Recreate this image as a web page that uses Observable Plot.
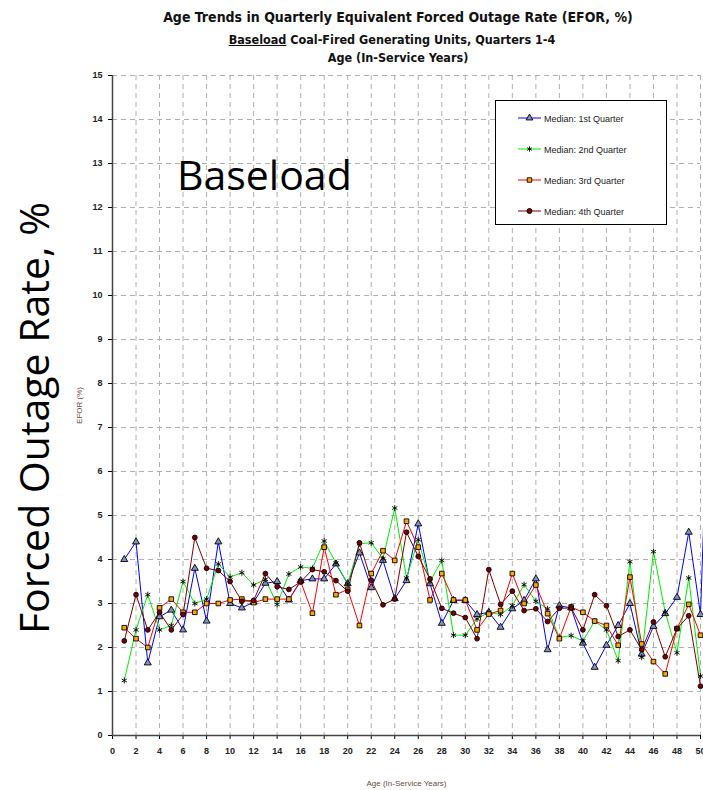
<!DOCTYPE html>
<html><head><meta charset="utf-8">
<script src="https://cdn.jsdelivr.net/npm/d3@7"></script>
<script src="https://cdn.jsdelivr.net/npm/@observablehq/plot@0.6"></script>
<style>
html,body{margin:0;padding:0;background:#fff;overflow:hidden;}
#wrap{position:relative;width:703px;height:790px;overflow:hidden;}
.t{position:absolute;white-space:nowrap;}
.narrow{font-family:"Liberation Sans Narrow","Arial Narrow","DejaVu Sans Condensed",sans-serif;font-stretch:condensed;font-weight:bold;color:#111;}
</style></head><body><div id="wrap"></div>
<script>
const ages = [1,2,3,4,5,6,7,8,9,10,11,12,13,14,15,16,17,18,19,20,21,22,23,24,25,26,27,28,29,30,31,32,33,34,35,36,37,38,39,40,41,42,43,44,45,46,47,48,49,50];
const agesQ1 = [...ages, 51];
const q1 = [4.0,4.4,1.65,2.7,2.85,2.4,3.8,2.6,4.4,3.0,2.9,3.03,3.46,3.5,3.08,3.52,3.56,3.56,3.9,3.45,4.15,3.36,3.98,3.11,3.52,4.81,3.45,2.55,3.07,3.07,2.75,2.8,2.46,2.88,3.07,3.56,1.95,2.95,2.9,2.1,1.55,2.05,2.5,3.0,1.85,2.48,2.77,3.14,4.62,2.75,10.5];
const q2 = [1.25,2.4,3.2,2.4,2.5,3.5,3.0,3.1,3.9,3.6,3.7,3.42,3.55,2.98,3.67,3.83,3.8,4.42,3.92,3.45,4.36,4.38,4.02,5.17,3.58,4.45,3.5,3.98,2.28,2.28,2.65,2.8,2.75,2.95,3.43,3.05,2.88,2.23,2.27,2.15,2.6,2.4,1.7,3.95,1.78,4.18,2.8,1.88,3.58,1.35];
const q3 = [2.45,2.2,2.0,2.9,3.1,2.8,2.8,3.0,3.0,3.08,3.1,3.02,3.1,3.1,3.1,3.5,2.78,4.28,3.2,3.32,2.5,3.68,4.2,3.98,4.87,4.28,3.08,3.68,3.08,3.08,2.4,2.76,2.84,3.68,3.0,3.42,2.77,2.2,2.92,2.8,2.6,2.5,2.05,3.6,2.08,1.68,1.4,2.43,2.98,2.28];
const q4 = [2.15,3.2,2.4,2.8,2.4,2.75,4.5,3.8,3.75,3.5,3.05,3.07,3.68,3.38,3.32,3.49,3.77,3.72,3.52,3.28,4.38,3.53,2.97,3.1,4.62,4.07,3.56,2.89,2.78,2.68,2.2,3.77,2.98,3.28,2.84,2.88,2.59,2.89,2.9,2.4,3.2,2.95,2.25,2.4,1.95,2.58,1.79,2.43,2.72,1.12];
const seriesNames = ["Median: 1st Quarter","Median: 2nd Quarter","Median: 3rd Quarter","Median: 4th Quarter"];
const xTicks = [0,2,4,6,8,10,12,14,16,18,20,22,24,26,28,30,32,34,36,38,40,42,44,46,48,50];
const yTicks = [0,1,2,3,4,5,6,7,8,9,10,11,12,13,14,15];

const styles = [
  {ages: agesQ1, values: q1, line: "#0000ff", symbol: "triangle", fill: "#8090c0", r: 2.6},
  {ages: ages, values: q2, line: "#00ee00", symbol: "asterisk", fill: "none", r: 2.8},
  {ages: ages, values: q3, line: "#ff0000", symbol: "square", fill: "#ffa500", r: 2.6},
  {ages: ages, values: q4, line: "#800000", symbol: "circle", fill: "#7a0000", r: 2.4}
];
const rows = styles.map((s, k) => s.values.map((v, i) => ({age: s.ages[i], v, key: seriesNames[k]})));

const marks = [
  Plot.gridY(yTicks, {stroke: "#b0b0b0", strokeOpacity: 1, strokeDasharray: "5,4"}),
  Plot.gridX(xTicks, {stroke: "#b0b0b0", strokeOpacity: 1, strokeDasharray: "5,4"}),
  Plot.axisX({ticks: xTicks, tickSize: 4, tickPadding: 8, label: "Age (In-Service Years)", labelAnchor: "center", labelArrow: "none", labelOffset: 50, fontSize: 9, fontWeight: "bold", fill: "#222"}),
  Plot.axisY({ticks: yTicks, tickSize: 4, tickPadding: 6, label: "EFOR (%)", labelAnchor: "center", labelArrow: "none", labelOffset: 36, fontSize: 9, fontWeight: "bold", fill: "#222"}),
  Plot.ruleX([0], {stroke: "#444", strokeWidth: 1.5}),
  Plot.ruleY([0], {stroke: "#444", strokeWidth: 1.5})
];
styles.forEach((s, k) => {
  marks.push(Plot.line(rows[k], {x: "age", y: "v", stroke: s.line, strokeWidth: 1}));
});
styles.forEach((s, k) => {
  marks.push(Plot.dot(rows[k].filter(d => d.age <= 50), {x: "age", y: "v", symbol: () => s.symbol, r: s.r, fill: s.fill, stroke: "#000", strokeWidth: 0.9}));
});

const chart = Plot.plot({
  width: 703, height: 790,
  marginTop: 75, marginBottom: 55, marginLeft: 112, marginRight: 3,
  style: {fontFamily: "Liberation Sans, Arial, sans-serif", background: "#fff", overflow: "hidden"},
  x: {domain: [0, 50]},
  y: {domain: [0, 15]},
  symbol: {type: "identity"},
  marks
});
const wrap = document.getElementById("wrap");
wrap.appendChild(chart);
chart.querySelectorAll("g[aria-label='y-axis label'] text, g[aria-label='x-axis label'] text").forEach(t => { t.setAttribute("fill", "#6b4a3a"); t.setAttribute("font-weight", "normal"); t.setAttribute("font-size", "8"); });

function addText(html, css, cls) {
  const d = document.createElement("div");
  d.className = "t " + (cls || "");
  d.innerHTML = html;
  Object.assign(d.style, css);
  wrap.appendChild(d);
  return d;
}
addText("Age Trends in Quarterly Equivalent Forced Outage Rate (EFOR, %)", {left: "0", width: "796px", textAlign: "center", top: "9px", fontSize: "14px"}, "narrow");
addText("<u>Baseload</u> Coal-Fired Generating Units, Quarters 1-4", {left: "0", width: "784px", textAlign: "center", top: "32px", fontSize: "12.5px"}, "narrow");
addText("Age (In-Service Years)", {left: "0", width: "796px", textAlign: "center", top: "50px", fontSize: "12.5px"}, "narrow");
addText("Baseload", {left: "177px", top: "146px", fontSize: "41px", fontFamily: "'Open Sans', 'Noto Sans', sans-serif", color: "#000"});
addText("Forced Outage Rate, %", {left: "33px", top: "418px", fontSize: "41px", fontFamily: "'Open Sans', 'Noto Sans', sans-serif", color: "#000", transform: "translate(-50%,-50%) rotate(-90deg)"});

// legend
const leg = addText("", {left: "495px", top: "100px", width: "170px", height: "123px", border: "1.5px solid #000", background: "#fff"});
const ls = d3.select(leg).append("svg").attr("width", 170).attr("height", 123);
const symMap = {triangle: d3.symbolTriangle, asterisk: d3.symbolAsterisk, square: d3.symbolSquare, circle: d3.symbolCircle};
styles.forEach((s, k) => {
  const yy = 17 + k * 31;
  const g = ls.append("g").attr("transform", `translate(0,${yy})`);
  g.append("line").attr("x1", 22).attr("x2", 45).attr("stroke", s.line).attr("stroke-width", 1);
  g.append("path").attr("transform", "translate(33.5,0)").attr("d", d3.symbol(symMap[s.symbol], 20)()).attr("fill", s.fill).attr("stroke", "#000").attr("stroke-width", 0.9);
  g.append("text").attr("x", 48).attr("y", 3.5).attr("font-size", 9).attr("font-family", "Liberation Sans, Arial, sans-serif").attr("fill", "#222").text(seriesNames[k]);
});
</script></body></html>
